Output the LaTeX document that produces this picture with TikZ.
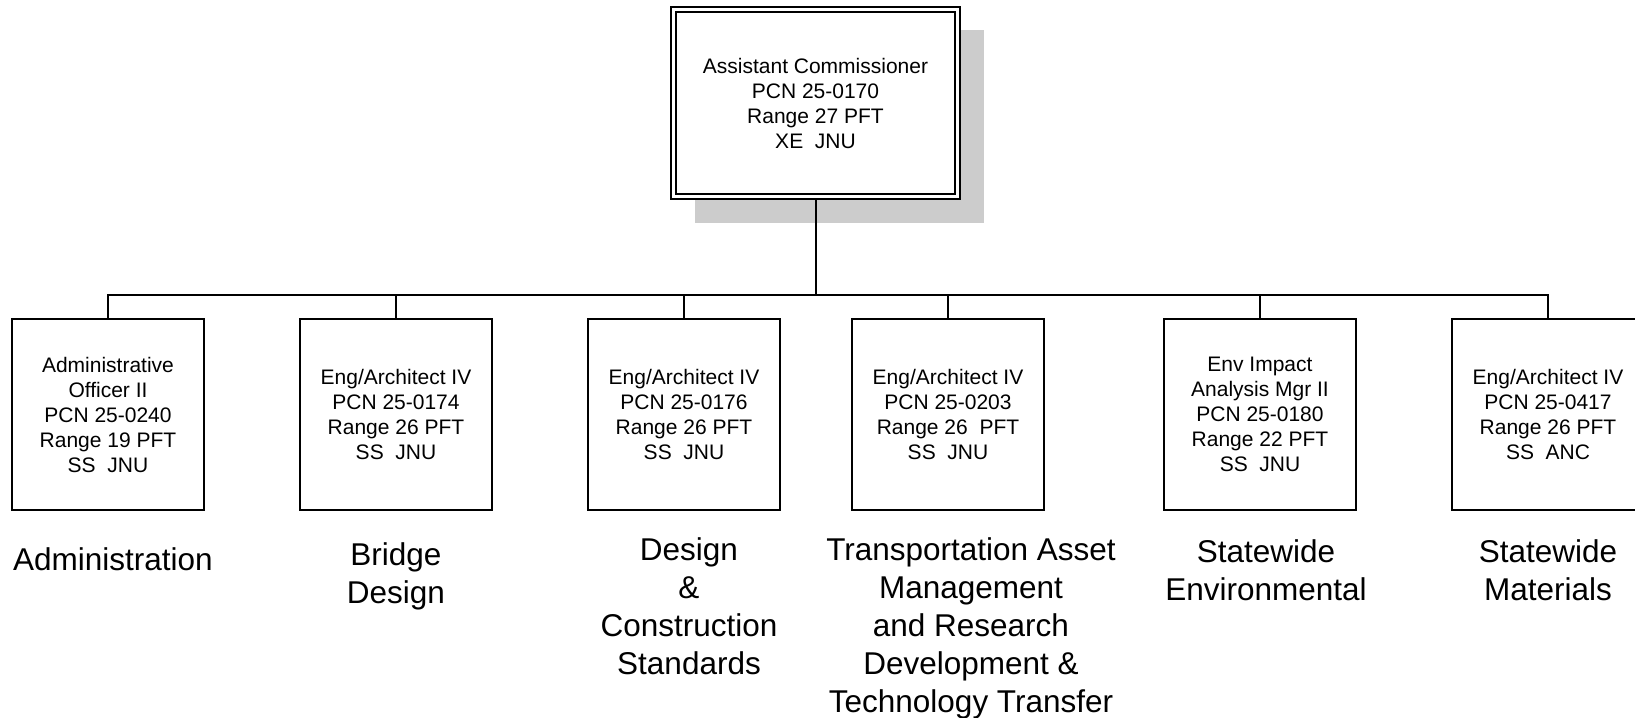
\documentclass[tikz,border=0pt]{standalone}
\usepackage{fontspec}
\setmainfont{Liberation Sans}
\usetikzlibrary{positioning}

\tikzset{
  post/.style={draw, line width=1pt, fill=white, inner sep=0pt, outer sep=0pt,
    minimum width=96pt, minimum height=95.5pt, align=center,
    font=\fontsize{10.5}{12.5}\selectfont},
  chief/.style={post, double, double distance=1.5pt, outer sep=1.75pt,
    minimum width=142pt, minimum height=93.5pt},
  unit/.style={align=center, inner sep=0pt, font=\fontsize{15.75}{19}\selectfont},
  link/.style={line width=1pt},
}

\begin{document}
\begin{tikzpicture}[x=0.5pt, y=-0.5pt]
  \useasboundingbox (0,0) rectangle (1635,718);
  % Define nodes
  \fill[black!20] (695,30) rectangle (984,223);
  \node[chief] (chief) at (815.5,103) {Assistant Commissioner\\PCN 25-0170\\Range 27 PFT\\XE~~JNU};
  \node[post] (admin) at (108,414.5) {Administrative\\Officer II\\PCN 25-0240\\Range 19 PFT\\SS~~JNU};
  \node[post, right=48pt of admin] (bridge) {Eng/Architect IV\\PCN 25-0174\\Range 26 PFT\\SS~~JNU};
  \node[post, right=48pt of bridge] (design) {Eng/Architect IV\\PCN 25-0176\\Range 26 PFT\\SS~~JNU};
  \node[post, right=36pt of design] (tam) {Eng/Architect IV\\PCN 25-0203\\Range 26~~PFT\\SS~~JNU};
  \node[post, right=60pt of tam] (env) {Env Impact\\Analysis Mgr II\\PCN 25-0180\\Range 22 PFT\\SS~~JNU};
  \node[post, right=48pt of env] (mat) {Eng/Architect IV\\PCN 25-0417\\Range 26 PFT\\SS~~ANC};
  \node[unit, below=18.5pt of admin, xshift=2.5pt] (adminlbl) {Administration};
  \node[unit, below=16pt of bridge] (bridgelbl) {Bridge\\Design};
  \node[unit, below=13.5pt of design, xshift=2.5pt] (designlbl) {Design\\\&\\Construction\\Standards};
  \node[unit, below=13.5pt of tam, xshift=11.5pt] (tamlbl) {Transportation Asset\\Management\\and Research\\Development \&\\Technology Transfer};
  \node[unit, below=14.5pt of env, xshift=3pt] (envlbl) {Statewide\\Environmental};
  \node[unit, below=14.5pt of mat] (matlbl) {Statewide\\Materials};
  \coordinate (bus) at (0,295);
  % Connect nodes
  \draw[link] (chief.south) -- (chief.south |- bus);
  \draw[link] (admin.north) |- (mat.north |- bus) -- (mat.north);
  \foreach \n in {bridge,design,tam,env}
    \draw[link] (\n.north) -- (\n.north |- bus);
\end{tikzpicture}
\end{document}
